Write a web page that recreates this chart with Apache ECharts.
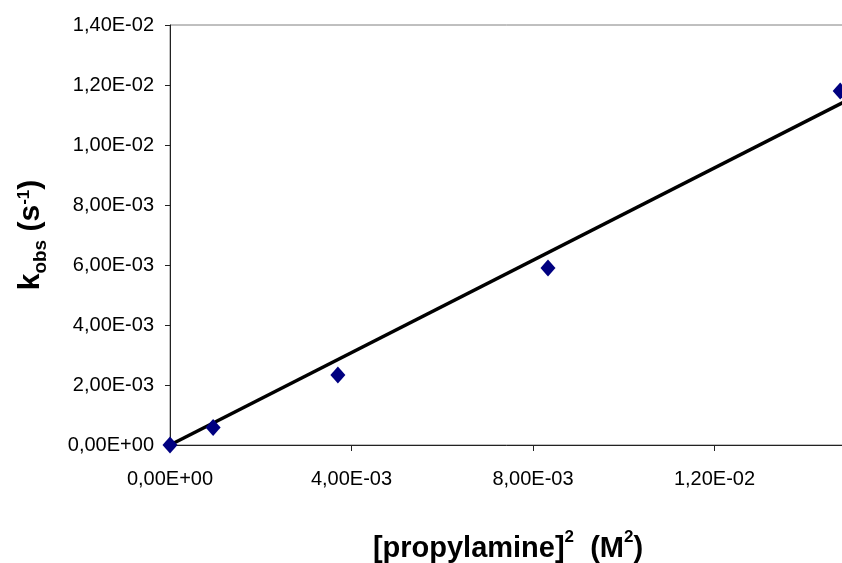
<!DOCTYPE html>
<html><head><meta charset="utf-8">
<script src="https://cdn.jsdelivr.net/npm/echarts@6/dist/echarts.min.js"></script>
<style>html,body{margin:0;padding:0;background:#fff}#c{width:842px;height:563px}</style>
</head><body><div id="c"></div>
<script>
// Data
var xValues = [0, 0.00095, 0.0037, 0.00833, 0.01477];   // [propylamine]^2 (M^2)
var yValues = [0, 0.00058, 0.00233, 0.0059, 0.0118];    // kobs (s^-1)
var xTicks = [0, 0.004, 0.008, 0.012, 0.016];
var yTicks = [0, 0.002, 0.004, 0.006, 0.008, 0.010, 0.012, 0.014];

// linear trendline through origin (least squares)
var sxy = 0, sxx = 0;
for (var i = 0; i < xValues.length; i++) { sxy += xValues[i] * yValues[i]; sxx += xValues[i] * xValues[i]; }
var slope = sxy / sxx;
var xEnd = xTicks[xTicks.length - 1];
var trend = [[0, 0], [xEnd, slope * xEnd]];

function fmt(v) {
  var s = Number(v).toExponential(2);
  var parts = s.split('e');
  var mant = parts[0].replace('.', ',');
  var e = parseInt(parts[1], 10);
  var sign = e < 0 ? '-' : '+';
  var ea = Math.abs(e);
  return mant + 'E' + sign + (ea < 10 ? '0' + ea : '' + ea);
}

var font = 'Liberation Sans, Arial, sans-serif';
var chart = echarts.init(document.getElementById('c'), null, {renderer: 'canvas'});
chart.setOption({
  animation: false,
  backgroundColor: '#ffffff',
  grid: {left: 170, top: 25, width: 726, bottom: 118, outerBoundsMode: 'none', containLabel: false,
         show: true, borderColor: '#808080', borderWidth: 1, backgroundColor: 'transparent'},
  xAxis: {
    type: 'value', min: xTicks[0], max: xTicks[xTicks.length - 1], interval: 0.004,
    axisLine: {show: true, onZero: false, lineStyle: {color: '#222', width: 1}},
    axisTick: {show: true, inside: false, length: 6, lineStyle: {color: '#222'}},
    splitLine: {show: false},
    axisLabel: {formatter: fmt, color: '#000', fontFamily: font, fontSize: 20, margin: 24},
    name: '{b|[propylamine]}{sup|2}{b|  (M}{sup|2}{b|)}',
    nameLocation: 'middle', nameGap: 84,
    nameTextStyle: {
      padding: [0, 50, 0, 0],
      rich: {
        b: {fontSize: 29, fontWeight: 'bold', fontFamily: font, color: '#000', lineHeight: 34, verticalAlign: 'bottom'},
        sup: {fontSize: 17, fontWeight: 'bold', fontFamily: font, color: '#000', lineHeight: 16, verticalAlign: 'top'}
      }
    }
  },
  yAxis: {
    type: 'value', min: yTicks[0], max: yTicks[yTicks.length - 1], interval: 0.002,
    axisLine: {show: true, lineStyle: {color: '#222', width: 1}},
    axisTick: {show: true, inside: false, length: 5, lineStyle: {color: '#222'}},
    splitLine: {show: false},
    axisLabel: {formatter: fmt, color: '#000', fontFamily: font, fontSize: 20, margin: 16},
    name: '{b|k}{sub|obs}{b| (s}{sup|-1}{b|)}',
    nameLocation: 'middle', nameGap: 120,
    nameTextStyle: {
      rich: {
        b: {fontSize: 30, fontWeight: 'bold', fontFamily: font, color: '#000', lineHeight: 34, verticalAlign: 'top'},
        sub: {fontSize: 19, fontWeight: 'bold', fontFamily: font, color: '#000', lineHeight: 22, verticalAlign: 'bottom'},
        sup: {fontSize: 17, fontWeight: 'bold', fontFamily: font, color: '#000', lineHeight: 16, verticalAlign: 'top'}
      }
    }
  },
  series: [
    {
      type: 'line', data: trend, symbol: 'none', silent: true, clip: true,
      lineStyle: {color: '#000', width: 3.5}, z: 2
    },
    {
      type: 'scatter', data: xValues.map(function (x, i) { return [x, yValues[i]]; }),
      symbol: 'diamond', symbolSize: [15, 17], clip: false,
      itemStyle: {color: '#000080', opacity: 1}, z: 3
    }
  ]
});
</script></body></html>
